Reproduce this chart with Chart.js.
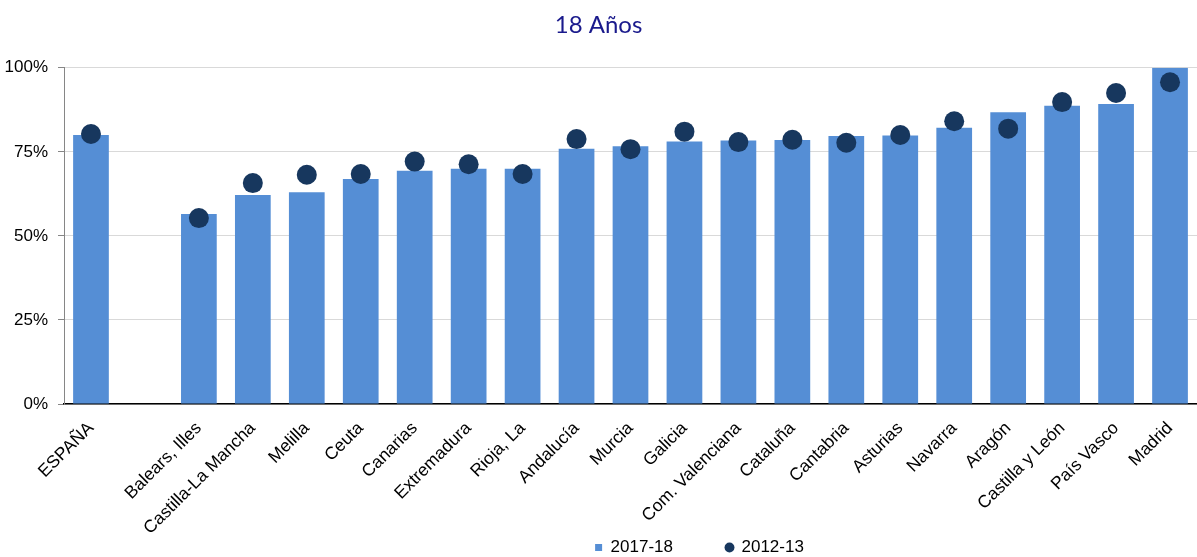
<!DOCTYPE html>
<html>
<head>
<meta charset="utf-8">
<script src="https://cdn.jsdelivr.net/npm/chart.js@4"></script>
<style>
  body { margin: 0; background: #fff; }
  #wrap { width: 1197px; height: 557px; position: relative; }
</style>
</head>
<body>
<div id="wrap"><canvas id="chart"></canvas></div>
<script>
const categories = ['ESPAÑA', '', 'Balears, Illes', 'Castilla-La Mancha', 'Melilla', 'Ceuta', 'Canarias',
  'Extremadura', 'Rioja, La', 'Andalucía', 'Murcia', 'Galicia', 'Com. Valenciana', 'Cataluña',
  'Cantabria', 'Asturias', 'Navarra', 'Aragón', 'Castilla y León', 'País Vasco', 'Madrid']
const values2017 = [80.0, null, 56.5, 62.2, 63.0, 66.9, 69.4, 70.0, 70.0, 75.9, 76.7, 78.1, 78.4, 78.5,
  79.7, 79.9, 82.2, 86.8, 88.7, 89.2, 100]
const values2012 = [80.3, null, 55.3, 65.7, 68.2, 68.4, 72.1, 71.3, 68.4, 78.8, 75.8, 81.0, 77.9, 78.6,
  77.7, 80.0, 84.1, 81.9, 89.8, 92.5, 95.7]
const yTicks = [0, 25, 50, 75, 100]

const labelFont = { family: "'Liberation Sans', Arial, sans-serif", size: 17 }

// legend sits right of centre and a bit lower in the original;
// x labels are allowed to run down past their box
const shiftLegend = {
  id: 'shiftLegend',
  afterLayout(chart) {
    const lg = chart.legend
    lg.left += 101
    lg.right += 101
    lg.top += 9
    lg.bottom += 9
    chart.scales.x.bottom = chart.height
  }
}

new Chart(document.getElementById('chart'), {
  type: 'bar',
  data: {
    labels: categories,
    datasets: [{
      label: '2017-18',
      data: values2017,
      backgroundColor: '#558ed5',
      borderWidth: 0,
      barPercentage: 0.662,
      categoryPercentage: 1,
      pointStyle: 'rect',
      order: 1
    }, {
      type: 'line',
      label: '2012-13',
      data: values2012,
      showLine: false,
      pointRadius: 10,
      pointHoverRadius: 10,
      pointStyle: 'circle',
      backgroundColor: '#17375e',
      borderColor: '#17375e',
      borderWidth: 0,
      order: 0
    }]
  },
  options: {
    responsive: true,
    maintainAspectRatio: false,
    animation: false,
    layout: { padding: 0, autoPadding: false },
    plugins: {
      title: {
        display: true,
        text: '18 Años',
        color: '#1a1a8c',
        font: { family: "Lato, 'Open Sans', sans-serif", size: 24, weight: 'normal' },
        padding: { top: 11, bottom: 28 }
      },
      legend: {
        position: 'bottom',
        labels: {
          usePointStyle: true,
          boxWidth: 7,
          boxHeight: 7,
          padding: 53,
          color: '#000',
          font: labelFont,
          sort: (a, b) => a.datasetIndex - b.datasetIndex
        }
      },
      tooltip: { enabled: false }
    },
    scales: {
      x: {
        grid: { display: false },
        border: { color: '#000', width: 1.5 },
        ticks: {
          color: '#000',
          font: { family: labelFont.family, size: 17.5 },
          minRotation: 45,
          maxRotation: 45,
          autoSkip: false,
          padding: 6
        },
        afterFit: scale => {
          scale.height = 73
          scale.paddingLeft = 0
          scale.paddingRight = 0
        }
      },
      y: {
        min: 0,
        max: 100,
        afterBuildTicks: scale => { scale.ticks = yTicks.map(v => ({ value: v })) },
        afterFit: scale => { scale.width = 64 },
        grid: { color: '#d9d9d9', tickColor: '#868686', tickLength: 6 },
        border: { color: '#868686' },
        ticks: {
          color: '#000',
          font: labelFont,
          padding: 10,
          callback: v => v + '%'
        }
      }
    }
  },
  plugins: [shiftLegend]
})
</script>
</body>
</html>
